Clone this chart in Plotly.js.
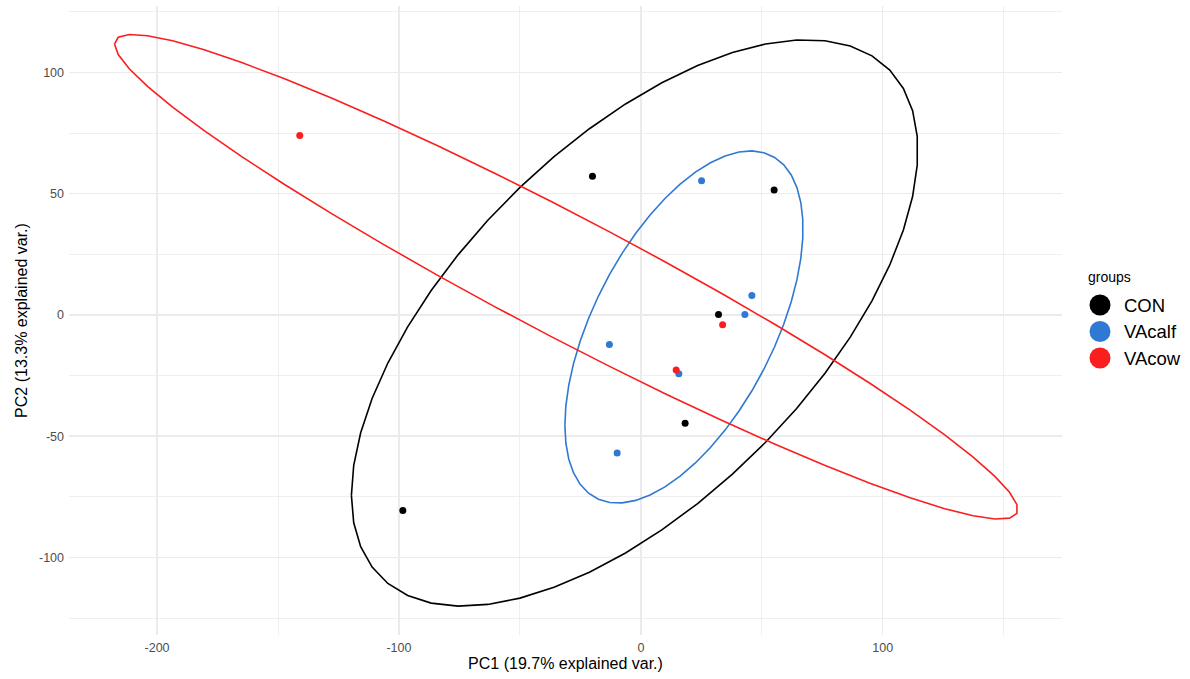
<!DOCTYPE html>
<html>
<head>
<meta charset="utf-8">
<script src="https://cdn.plot.ly/plotly-3.0.1.min.js"></script>
<style>html,body{margin:0;padding:0;background:#fff;}#chart{width:1190px;height:679px;}</style>
</head>
<body>
<div id="chart"></div>
<script>
// ---- data (PCA scores) ----
const groupNames = ['CON', 'VAcalf', 'VAcow'];
const groupColors = ['#000000', '#2F78D3', '#FA1E1E'];
const conPC1 = [-20.0, 55.1, 32.1, 18.3, -98.4];
const conPC2 = [57.2, 51.5, 0.2, -44.7, -80.7];
const calfPC1 = [25.1, 45.9, 43.0, -13.0, 15.7, -9.8];
const calfPC2 = [55.3, 8.0, 0.2, -12.2, -24.3, -56.9];
const cowPC1 = [-141.0, 14.6, 33.8];
const cowPC2 = [74.0, -22.7, -4.1];
const xTickVals = [-200, -100, 0, 100];
const yTickVals = [-100, -50, 0, 50, 100];
const xTitle = 'PC1 (19.7% explained var.)';
const yTitle = 'PC2 (13.3% explained var.)';
const legendTitle = 'groups';
const ELLIPSE_PROB = 0.85;

const groupX = [conPC1, calfPC1, cowPC1];
const groupY = [conPC2, calfPC2, cowPC2];

// normal-theory data ellipse (as in ggbiplot): circle %*% chol(var) * ed + mean
function dataEllipse(xs, ys, prob) {
  const n = xs.length;
  const mx = xs.reduce((a, b) => a + b, 0) / n;
  const my = ys.reduce((a, b) => a + b, 0) / n;
  let sxx = 0, syy = 0, sxy = 0;
  for (let i = 0; i < n; i++) {
    sxx += (xs[i] - mx) ** 2;
    syy += (ys[i] - my) ** 2;
    sxy += (xs[i] - mx) * (ys[i] - my);
  }
  sxx /= (n - 1); syy /= (n - 1); sxy /= (n - 1);
  const r11 = Math.sqrt(sxx), r12 = sxy / r11, r22 = Math.sqrt(syy - r12 * r12);
  const ed = Math.sqrt(-2 * Math.log(1 - prob));
  const ex = [], ey = [];
  const steps = 50;
  for (let k = 0; k < steps; k++) {
    const t = -Math.PI + 2 * Math.PI * k / (steps - 1);
    const c = Math.cos(t), s = Math.sin(t);
    ex.push(mx + ed * c * r11);
    ey.push(my + ed * (c * r12 + s * r22));
  }
  return {x: ex, y: ey};
}

const traces = [];
groupNames.forEach((g, i) => {
  traces.push({
    type: 'scatter', mode: 'markers', x: groupX[i], y: groupY[i],
    marker: {color: groupColors[i], size: 7}, showlegend: false, name: g
  });
});
groupNames.forEach((g, i) => {
  const e = dataEllipse(groupX[i], groupY[i], ELLIPSE_PROB);
  traces.push({
    type: 'scatter', mode: 'lines', x: e.x, y: e.y,
    line: {color: groupColors[i], width: 1.6}, showlegend: false, hoverinfo: 'skip', name: g
  });
});

// ---- legend (ggplot-style keys) ----
const M = {l: 69, r: 128, t: 6, b: 44};
const W = 1190, H = 679;
const pw = W - M.l - M.r, ph = H - M.t - M.b;
const px2x = p => (p - M.l) / pw;
const px2y = p => 1 - (p - M.t) / ph;
const keyX = 1100, keyY0 = 305, keyStep = 26.5, keyD = 21;

const shapes = groupNames.map((g, i) => ({
  type: 'circle', xref: 'paper', yref: 'paper',
  xsizemode: 'pixel', ysizemode: 'pixel',
  xanchor: px2x(keyX), yanchor: px2y(keyY0 + i * keyStep),
  x0: -keyD / 2, x1: keyD / 2, y0: -keyD / 2, y1: keyD / 2,
  fillcolor: groupColors[i], line: {width: 0}
}));
const annotations = groupNames.map((g, i) => ({
  text: g, xref: 'paper', yref: 'paper', x: px2x(keyX + 22), y: px2y(keyY0 + i * keyStep),
  xanchor: 'left', yanchor: 'middle', showarrow: false,
  font: {size: 18.5, color: '#000'}
}));
annotations.push({
  text: legendTitle, xref: 'paper', yref: 'paper', x: px2x(1086), y: px2y(277),
  xanchor: 'left', yanchor: 'middle', showarrow: false,
  font: {size: 14, color: '#000'}
});

const gridC = '#EBEBEB';
const layout = {
  width: W, height: H,
  margin: M,
  paper_bgcolor: '#ffffff', plot_bgcolor: '#ffffff',
  font: {family: 'Liberation Sans, Arial, sans-serif', color: '#000'},
  xaxis: {
    range: [-236.4, 174.1], tickvals: xTickVals, ticktext: xTickVals.map(String),
    showgrid: true, gridcolor: gridC, gridwidth: 1.4, zeroline: false, showline: false,
    ticks: '', tickfont: {size: 12.5, color: '#4D4D4D'}, ticklabelstandoff: 3,
    minor: {tickvals: [-150, -50, 50, 150], showgrid: true, gridcolor: gridC, gridwidth: 0.8},
    title: {text: xTitle, font: {size: 16, color: '#000'}, standoff: 4},
    automargin: false, fixedrange: true
  },
  yaxis: {
    range: [-132.0, 127.4], tickvals: yTickVals, ticktext: yTickVals.map(String),
    showgrid: true, gridcolor: gridC, gridwidth: 1.4, zeroline: false, showline: false,
    ticks: '', tickfont: {size: 12.5, color: '#4D4D4D'}, ticklabelstandoff: 4,
    minor: {tickvals: [-125, -75, -25, 25, 75, 125], showgrid: true, gridcolor: gridC, gridwidth: 0.8},
    title: {text: yTitle, font: {size: 16, color: '#000'}, standoff: 7},
    automargin: false, fixedrange: true
  },
  shapes: shapes,
  annotations: annotations,
  showlegend: false
};

Plotly.newPlot('chart', traces, layout, {displayModeBar: false, staticPlot: true});
</script>
</body>
</html>
